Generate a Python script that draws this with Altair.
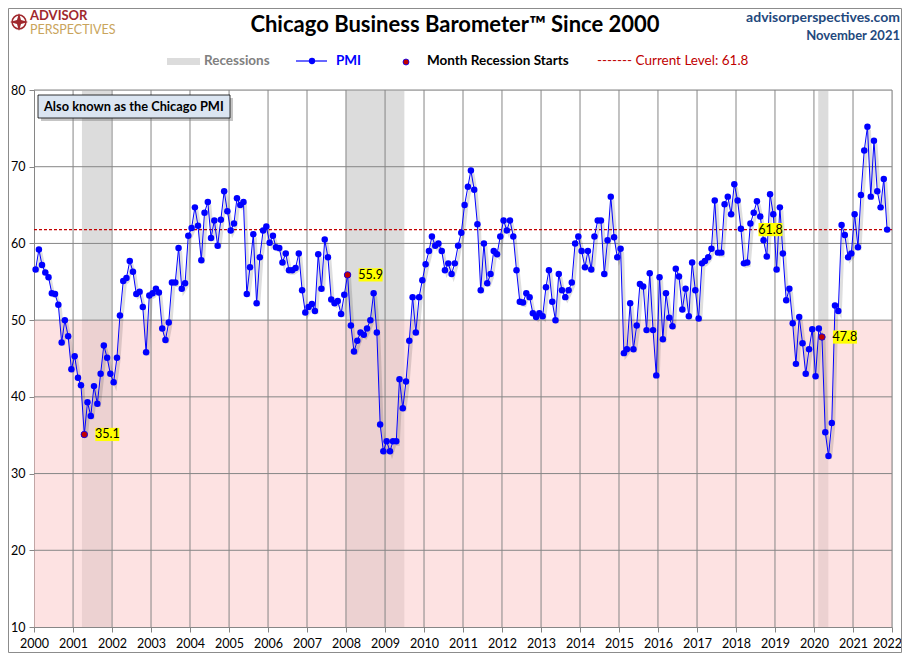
import altair as alt
import pandas as pd

# ---------------- data ----------------
pmi = [
    56.6, 59.2, 57.2, 56.2, 55.6, 53.5, 53.4, 52.0, 47.1, 50.0, 47.9, 43.6,   # 2000
    45.3, 42.5, 41.5, 35.1, 39.3, 37.5, 41.4, 39.1, 43.0, 46.7, 45.1, 43.0,   # 2001
    41.9, 45.1, 50.6, 55.1, 55.5, 57.7, 56.3, 53.4, 53.7, 51.7, 45.8, 53.2,   # 2002
    53.5, 54.1, 53.6, 48.9, 47.4, 49.7, 54.9, 54.9, 59.4, 54.1, 54.8, 61.0,   # 2003
    62.0, 64.7, 62.3, 57.8, 64.0, 65.4, 60.7, 63.0, 59.7, 63.1, 66.8, 64.2,   # 2004
    61.7, 62.6, 65.9, 65.0, 65.4, 53.4, 56.9, 61.2, 52.2, 58.2, 61.7, 62.2,   # 2005
    60.1, 61.0, 59.5, 59.4, 57.5, 58.7, 56.5, 56.5, 56.8, 58.7, 53.9, 51.0,   # 2006
    51.7, 52.1, 51.2, 58.6, 54.1, 60.5, 58.2, 52.7, 52.2, 52.5, 50.8, 53.3,   # 2007
    55.9, 49.3, 45.9, 47.3, 48.4, 48.1, 48.9, 50.0, 53.5, 48.4, 36.4, 32.9,   # 2008
    34.2, 32.9, 34.2, 34.2, 42.3, 38.5, 42.0, 47.3, 53.0, 48.4, 53.0, 55.2,   # 2009
    57.3, 59.0, 60.9, 59.7, 60.0, 59.0, 56.5, 57.4, 56.0, 57.4, 59.7, 61.4,   # 2010
    65.0, 67.4, 69.5, 67.0, 62.5, 53.9, 60.0, 54.8, 56.0, 59.0, 58.6, 60.9,   # 2011
    63.0, 61.7, 63.0, 60.9, 56.5, 52.4, 52.3, 53.5, 53.0, 50.9, 50.4, 50.9,   # 2012
    50.5, 54.3, 56.5, 52.4, 50.0, 56.0, 53.9, 53.0, 53.9, 54.9, 60.0, 60.9,   # 2013
    59.0, 56.9, 59.0, 56.6, 60.9, 63.0, 63.0, 56.0, 60.4, 66.1, 60.8, 58.2,   # 2014
    59.3, 45.7, 46.2, 52.2, 46.2, 49.3, 54.7, 54.4, 48.7, 56.1, 48.7, 42.8,   # 2015
    55.6, 47.5, 53.5, 50.3, 49.2, 56.7, 55.7, 51.4, 54.1, 50.5, 57.5, 53.9,   # 2016
    50.2, 57.4, 57.7, 58.2, 59.3, 65.6, 58.8, 58.8, 65.1, 66.1, 63.8, 67.7,   # 2017
    65.6, 61.9, 57.4, 57.5, 62.6, 64.0, 65.5, 63.5, 60.4, 58.3, 66.4, 63.8,   # 2018
    56.6, 64.7, 58.7, 52.6, 54.1, 49.6, 44.3, 50.4, 47.0, 43.0, 46.2, 48.8,   # 2019
    42.7, 48.9, 47.8, 35.4, 32.3, 36.6, 51.9, 51.2, 62.4, 61.1, 58.2, 58.7,   # 2020
    63.8, 59.5, 66.3, 72.1, 75.2, 66.1, 73.4, 66.8, 64.7, 68.4, 61.8,         # 2021
]
first_month = "2000-01-01"
rec_starts = ["2001-03-25", "2008-01-01", "2020-02-10"]
rec_ends = ["2001-12-26", "2009-07-01", "2020-05-15"]
rec_start_idx = [15, 96, 242]
current_level = 61.8
current_label_date = "2018-11-20"
years = list(range(2000, 2023))
y_ticks = [10, 20, 30, 40, 50, 60, 70, 80]
contraction_band = [10, 50]

FONT = "Lato"
W, H = 858, 537
PAD = {"left": 26, "top": 82, "right": 10, "bottom": 26}

dates = pd.date_range(first_month, periods=len(pmi), freq="MS") + pd.Timedelta(days=15)
df = pd.DataFrame({"date": dates.strftime("%Y-%m-%dT%H:%M:%S"), "pmi": pmi})
rec_df = pd.DataFrame({"start": [s + "T00:00:00" for s in rec_starts],
                       "end": [e + "T00:00:00" for e in rec_ends]})
start_df = df.iloc[rec_start_idx].reset_index(drop=True)
pink_df = pd.DataFrame({"x0": [f"{years[0]}-01-01T00:00:00"], "x1": [f"{years[-1]}-01-01T00:00:00"],
                        "lo": [contraction_band[0]], "hi": [contraction_band[1]]})
xgrid_df = pd.DataFrame({"date": [f"{y}-01-01T00:00:00" for y in years[1:]]})
ygrid_df = pd.DataFrame({"v": y_ticks[1:]})
cur_df = pd.DataFrame({"v": [current_level], "date": [current_label_date + "T00:00:00"]})
one = pd.DataFrame({"k": [0]})

xscale = alt.Scale(domain=[alt.DateTime(year=years[0], month=1, date=1),
                           alt.DateTime(year=years[-1], month=1, date=1)])
yscale = alt.Scale(domain=[y_ticks[0], y_ticks[-1]], nice=False, zero=False)
xaxis = alt.Axis(values=[alt.DateTime(year=y, month=1, date=1) for y in years], format="%Y",
                 grid=False, title=None, tickSize=5, labelPadding=5, labelFlush=False,
                 labelOffset={"condition": {"test": f"year(datum.value) == {years[-1]}", "value": -5},
                              "value": 0},
                 labelOverlap=False, labelFont=FONT, labelFontSize=12.5, labelColor="#000000",
                 domainColor="#868686", tickColor="#868686")
yaxis = alt.Axis(values=y_ticks, grid=False, title=None, tickSize=5, labelPadding=4,
                 labelFont=FONT, labelFontSize=12.5, labelColor="#000000",
                 domainColor="#868686", tickColor="#868686")


def X(f):
    return alt.X(f, type="temporal", scale=xscale, axis=xaxis)


def Y(f):
    return alt.Y(f, type="quantitative", scale=yscale, axis=yaxis)


# ---------------- plot layers ----------------
bands = alt.Chart(rec_df).mark_rect(color="#DCDCDC").encode(
    x=X("start"), x2="end", y=alt.Y(datum=y_ticks[-1], type="quantitative", scale=yscale, axis=yaxis),
    y2=alt.Y2(datum=y_ticks[0]))
pink = alt.Chart(pink_df).mark_rect(color="#FBC6C6", opacity=0.5).encode(
    x=X("x0"), x2="x1", y=Y("hi"), y2="lo")
xgrid = alt.Chart(xgrid_df).mark_rule(color="#868686", strokeWidth=1).encode(x=X("date"))
ygrid = alt.Chart(ygrid_df).mark_rule(color="#868686", strokeWidth=1).encode(y=Y("v"))
cur_line = alt.Chart(cur_df).mark_rule(color="#C00000", strokeWidth=1.2, strokeDash=[3, 2]).encode(y=Y("v"))

shadow = alt.Chart(df).mark_line(color="#000000", opacity=0.13, strokeWidth=3, xOffset=2, yOffset=3).encode(
    x=X("date"), y=Y("pmi"))
line = alt.Chart(df).mark_line(color="#0000FF", strokeWidth=1).encode(x=X("date"), y=Y("pmi"))
pts = alt.Chart(df).mark_point(filled=True, color="#0000FF", size=42, opacity=1).encode(
    x=X("date"), y=Y("pmi"))
red_pts = alt.Chart(start_df).mark_point(filled=True, fill="#C00000", stroke="#0000FF",
                                          strokeWidth=0.8, size=42, opacity=1).encode(
    x=X("date"), y=Y("pmi"))
BOX = "M-1,-0.55H1V0.55H-1Z"
red_boxes = alt.Chart(start_df).mark_point(shape=BOX, filled=True, color="#FFFF00", size=576,
                                            opacity=1, xOffset=23).encode(x=X("date"), y=Y("pmi"))
red_labels = alt.Chart(start_df).mark_text(font=FONT, fontSize=12.5, color="#000000", xOffset=23,
                                            baseline="middle").encode(
    x=X("date"), y=Y("pmi"), text=alt.Text("pmi:Q", format=".1f"))
cur_box = alt.Chart(cur_df).mark_point(shape=BOX, filled=True, color="#FFFF00", size=576,
                                        opacity=1).encode(x=X("date"), y=Y("v"))
cur_label = alt.Chart(cur_df).mark_text(font=FONT, fontSize=12.5, color="#000000",
                                         baseline="middle").encode(
    x=X("date"), y=Y("v"), text=alt.Text("v:Q", format=".1f"))


# ---------------- decorations ----------------
def txt(s, x, y, size=12.5, weight="normal", color="#000000", align="left"):
    return alt.Chart(one).mark_text(text=s, font=FONT, fontSize=size, fontWeight=weight, color=color,
                                    align=align, baseline="middle").encode(x=alt.value(x), y=alt.value(y))


def box(x0, x1, y0, y1, **kw):
    return alt.Chart(one).mark_rect(**kw).encode(x=alt.value(x0), x2=alt.value(x1),
                                                 y=alt.value(y0), y2=alt.value(y1))


note_shadow = box(7, 199, 8, 31, color="#7F7F7F", opacity=0.45)
note_box = box(4, 196, 5, 28, fill="#DBE5F1", stroke="#000000", strokeWidth=0.8)
note_text = txt("Also known as the Chicago PMI", 10, 16.5, size=12.8, weight="bold")

leg_swatch = box(133, 166, -32, -25, color="#DCDCDC")
leg_rec = txt("Recessions", 170, -29, size=13.5, weight="bold", color="#808080")
leg_line = alt.Chart(one).mark_rule(color="#0000FF", strokeWidth=1.2).encode(
    x=alt.value(262), x2=alt.value(293), y=alt.value(-29))
leg_dot = alt.Chart(one).mark_point(filled=True, color="#0000FF", size=40, opacity=1).encode(
    x=alt.value(278), y=alt.value(-29))
leg_pmi = txt("PMI", 302, -29, size=13.5, weight="bold", color="#0000FF")
leg_red = alt.Chart(one).mark_point(filled=True, fill="#C00000", stroke="#0000FF", strokeWidth=0.8,
                                    size=36, opacity=1).encode(x=alt.value(372), y=alt.value(-28))
leg_start = txt("Month Recession Starts", 393, -29, size=13.5, weight="bold")
leg_cur = txt("------- Current Level: 61.8", 563, -29, size=13.5, color="#C00000")

title = txt("Chicago Business Barometer\u2122 Since 2000", 421, -65, size=22, weight="bold", align="center")
site = txt("advisorperspectives.com", 866, -72, size=14, weight="bold", color="#1F497D", align="right")
month = txt("November 2021", 866, -54, size=13, weight="bold", color="#1F497D", align="right")
logo_ring = alt.Chart(one).mark_point(shape="circle", filled=False, color="#A0282D", size=190,
                                      strokeWidth=1.5, opacity=1).encode(x=alt.value(-15), y=alt.value(-68))
logo_star = alt.Chart(one).mark_point(
    shape="M0,-1L0.22,-0.22L1,0L0.22,0.22L0,1L-0.22,0.22L-1,0L-0.22,-0.22Z",
    filled=True, color="#A0282D", size=330, opacity=1).encode(x=alt.value(-15), y=alt.value(-68))
logo1 = txt("ADVISOR", -4, -74, size=13, weight="bold", color="#A0282D")
logo2 = txt("PERSPECTIVES", -4, -60, size=12.5, color="#C9A45C")
frame = box(-25.5, W + PAD["right"] - 0.5, -81.5, H + 25.5, filled=False, stroke="#8C8C8C", strokeWidth=1)

chart = alt.layer(
    bands, pink, xgrid, ygrid, cur_line, shadow, line, pts, red_pts, red_boxes, red_labels,
    cur_box, cur_label, note_shadow, note_box, note_text,
    leg_swatch, leg_rec, leg_line, leg_dot, leg_pmi, leg_red, leg_start, leg_cur,
    title, site, month, logo_ring, logo_star, logo1, logo2, frame,
).properties(
    width=W, height=H, autosize="none", padding=PAD,
).configure_view(stroke=None).configure(background="#FFFFFF")

chart.save("out.html", embed_options={"renderer": "svg", "actions": False})
